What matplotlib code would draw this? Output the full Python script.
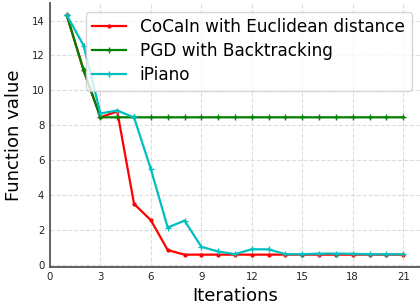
import matplotlib.pyplot as plt

iters = list(range(1, 22))

# function values
cocain = [14.3, 11.15, 8.46, 8.8, 3.5, 2.57, 0.86, 0.6, 0.6, 0.6, 0.6,
          0.6, 0.6, 0.6, 0.6, 0.6, 0.6, 0.6, 0.6, 0.6, 0.6]
pgd = [14.3, 11.15, 8.46, 8.46, 8.46, 8.46, 8.46, 8.46, 8.46, 8.46, 8.46,
       8.46, 8.46, 8.46, 8.46, 8.46, 8.46, 8.46, 8.46, 8.46, 8.46]
ipiano = [14.3, 12.57, 8.68, 8.85, 8.45, 5.49, 2.15, 2.55, 1.05, 0.78, 0.63,
          0.91, 0.9, 0.63, 0.62, 0.66, 0.66, 0.65, 0.62, 0.62, 0.62]

xticks = [0, 3, 6, 9, 12, 15, 18, 21]
yticks = [0, 2, 4, 6, 8, 10, 12, 14]

fig = plt.figure(figsize=(4.2, 3.05), dpi=100)
ax = fig.add_axes([0.119, 0.125, 0.881, 0.865])

ax.plot(iters, cocain, color='r', marker='.', markersize=4, linewidth=1.6,
        label='CoCaIn with Euclidean distance')
ax.plot(iters, pgd, color='g', marker='+', markersize=5, linewidth=1.6,
        label='PGD with Backtracking')
ax.plot(iters, ipiano, color='c', marker='+', markersize=5, linewidth=1.6,
        label='iPiano')

ax.set_xlim(0, 22)
ax.set_ylim(-0.1, 15)
ax.set_xticks(xticks)
ax.set_yticks(yticks)
ax.tick_params(length=0, labelsize=7.3, pad=4, colors='#222222')
ax.grid(True, linestyle='--', color='#dddddd', linewidth=0.8)
ax.set_axisbelow(True)

for s in ['top', 'right']:
    ax.spines[s].set_visible(False)
for s in ['left', 'bottom']:
    ax.spines[s].set_color('#555555')
    ax.spines[s].set_linewidth(1.3)

ax.set_xlabel('Iterations', fontsize=13, labelpad=3)
ax.set_ylabel('Function value', fontsize=13, labelpad=6)
ax.legend(loc='upper right', fontsize=12.2, framealpha=0.8, labelspacing=0.35)

fig.savefig('out.png', dpi=100)
